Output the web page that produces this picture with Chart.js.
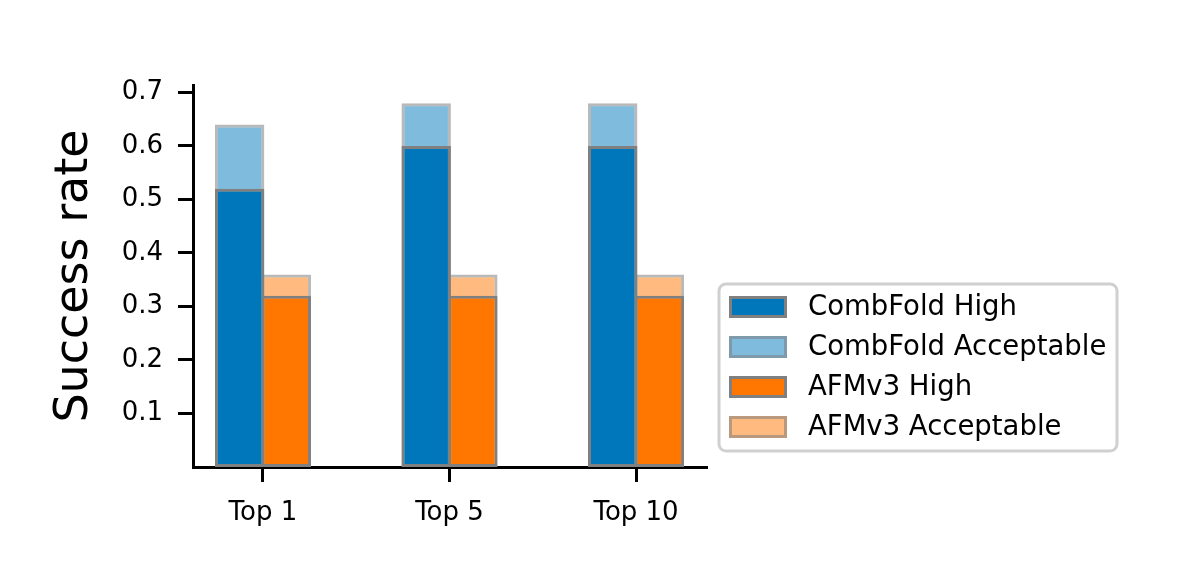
<!DOCTYPE html>
<html>
<head>
<meta charset="utf-8">
<script src="https://cdn.jsdelivr.net/npm/chart.js@4.4.0/dist/chart.umd.min.js"></script>
<style>
html, body { margin: 0; padding: 0; background: #fff; }
#wrap { width: 1200px; height: 568px; }
</style>
</head>
<body>
<div id="wrap"><canvas id="chart" width="1200" height="568"></canvas></div>
<script>
// --- datos ---
const categories = ['Top 1', 'Top 5', 'Top 10'];
const combHigh = [0.52, 0.60, 0.60];
const combAcceptable = [0.64, 0.68, 0.68];
const afHigh = [0.32, 0.32, 0.32];
const afAcceptable = [0.36, 0.36, 0.36];
const yTicks = [0.1, 0.2, 0.3, 0.4, 0.5, 0.6, 0.7];

const FONT = '"DejaVu Sans", sans-serif';

function toPoints(arr) {
    return arr.map((v, i) => ({ x: i, y: v }));
}

function bar(label, data, stack, bg, border) {
    return {
        label, data: toPoints(data), stack,
        backgroundColor: bg, borderColor: border,
        borderWidth: 3, borderSkipped: false
    };
}

// legend drawn by hand so it sits where the original one is
const legendBox = {
    id: 'legendBox',
    afterDraw(chart) {
        const ctx = chart.ctx;
        ctx.save();
        ctx.beginPath();
        ctx.roundRect(719, 284, 398, 167, 7);
        ctx.fillStyle = 'rgba(255,255,255,0.8)';
        ctx.fill();
        ctx.lineWidth = 3;
        ctx.strokeStyle = '#d0d0d0';
        ctx.stroke();
        chart.data.datasets.forEach((ds, i) => {
            const y = 307 + i * 40;
            ctx.fillStyle = '#fff';
            ctx.fillRect(729, y - 11, 58, 22);
            ctx.fillStyle = ds.backgroundColor;
            ctx.fillRect(729, y - 11, 58, 22);
            ctx.lineWidth = 3;
            ctx.strokeStyle = ds.borderColor;
            ctx.strokeRect(730.5, y - 9.5, 55, 19);
            ctx.fillStyle = '#000';
            ctx.font = '27.5px ' + FONT;
            ctx.textBaseline = 'middle';
            ctx.fillText(ds.label, 808, y + 1);
        });
        ctx.restore();
    }
};

const axisGrid = { drawOnChartArea: false, drawTicks: true, tickLength: 15, color: '#000', lineWidth: 3, offset: false };
const axisBorder = { display: true, color: '#000', width: 3 };

new Chart(document.getElementById('chart'), {
    type: 'bar',
    data: {
        datasets: [
            bar('CombFold High', combHigh, 'comb', '#0077BB', '#808080'),
            bar('CombFold Acceptable', combAcceptable, 'comb', 'rgba(0,119,187,0.5)', 'rgba(128,128,128,0.55)'),
            bar('AFMv3 High', afHigh, 'af', '#FF7700', '#808080'),
            bar('AFMv3 Acceptable', afAcceptable, 'af', 'rgba(255,119,0,0.5)', 'rgba(128,128,128,0.55)')
        ]
    },
    options: {
        responsive: false,
        animation: false,
        categoryPercentage: 0.5,
        barPercentage: 1.06,
        layout: { padding: { top: 85, right: 494, left: 0, bottom: 0 } },
        plugins: { legend: { display: false }, tooltip: { enabled: false } },
        scales: {
            x: {
                type: 'linear',
                min: -0.375,
                max: 2.375,
                offset: false,
                grid: axisGrid,
                border: axisBorder,
                afterBuildTicks: s => { s.ticks = categories.map((_, i) => ({ value: i })); },
                afterFit: s => { s.height = 101; },
                ticks: {
                    autoSkip: false, maxRotation: 0, padding: 16, color: '#000',
                    font: { family: FONT, size: 26 },
                    callback: v => categories[v]
                }
            },
            y: {
                min: 0,
                max: 0.714,
                stacked: false,
                grid: axisGrid,
                border: axisBorder,
                afterBuildTicks: s => { s.ticks = yTicks.map(v => ({ value: v })); },
                afterFit: s => { s.width = 193; },
                ticks: {
                    padding: 15, color: '#000',
                    font: { family: FONT, size: 26 },
                    callback: v => v.toFixed(1)
                },
                title: {
                    display: true, text: 'Success rate', color: '#000',
                    font: { family: FONT, size: 46 },
                    padding: { top: 47, bottom: 0 }
                }
            }
        }
    },
    plugins: [legendBox]
});
</script>
</body>
</html>
